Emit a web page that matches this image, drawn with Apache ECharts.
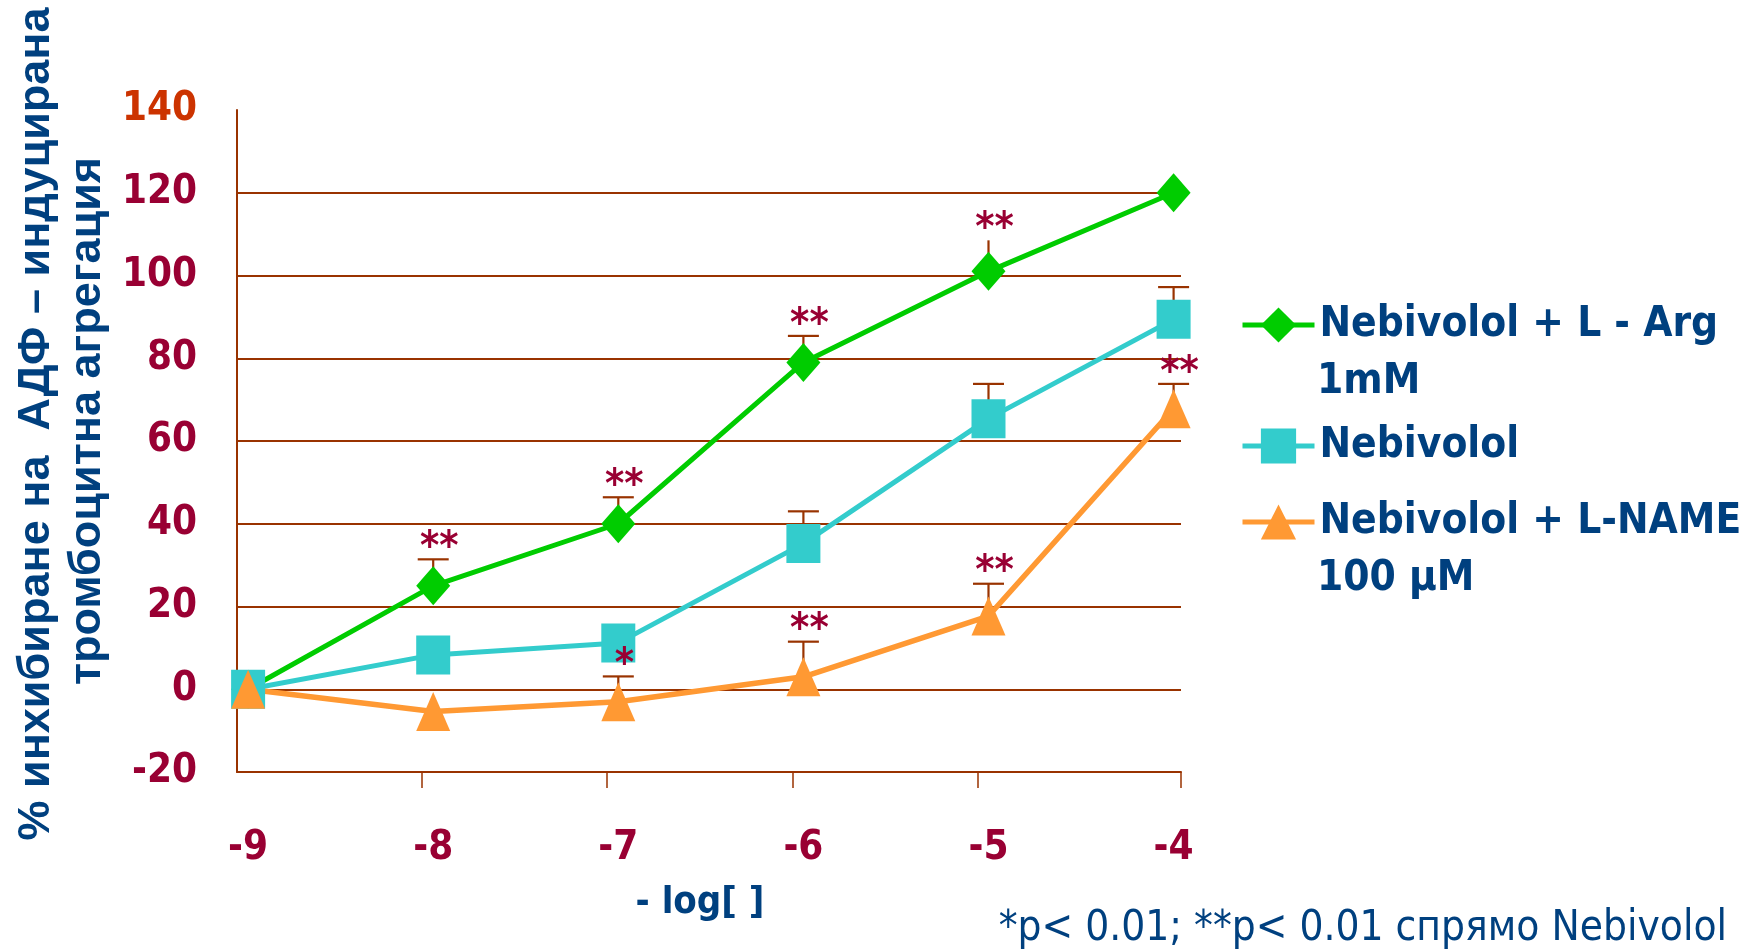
<!DOCTYPE html>
<html>
<head>
<meta charset="utf-8">
<script src="https://cdn.jsdelivr.net/npm/echarts@6/dist/echarts.min.js"></script>
<style>
  html, body { margin: 0; padding: 0; background: #ffffff; }
  #chart { width: 1760px; height: 951px; }
</style>
</head>
<body>
<div id="chart"></div>
<script>
// -log[concentration] positions
const xValues = [-9, -8, -7, -6, -5, -4];

// % inhibition of ADP-induced platelet aggregation
const seriesNames = ['Nebivolol + L - Arg', 'Nebivolol', 'Nebivolol + L-NAME'];
const legendSecondLines = ['1mM', '', '100 µM'];
const argValues  = [0, 25, 40, 79, 101, 120];
const nebValues  = [0, 8.3, 11.2, 35.2, 65.4, 89.4];
const nameValues = [0, -5.4, -3.0, 3.0, 17.7, 67.8];

// upper ends of the error bars (null = no bar drawn)
const argErrTop  = [null, 31.4, 46.4, 85.4, 108.5, null];
const nebErrTop  = [null, null, null, 43, 73.8, 97.2];
const nameErrTop = [null, null, 3.1, 11.5, 25.5, 73.8];
// whether the bar ends with a horizontal cap
const argErrCap  = [0, 1, 1, 1, 0, 0];
const nebErrCap  = [0, 0, 0, 1, 1, 1];
const nameErrCap = [0, 0, 1, 1, 1, 1];

// significance markers
const argStars  = ['', '**', '**', '**', '**', ''];
const nameStars = ['', '', '*', '**', '**', '**'];

const yAxisTitle = ['% инхибиране на  АДФ – индуцирана', 'тромбоцитна агрегация'];
const xAxisTitle = '- log[ ]';
const footnote = '*p< 0.01; **p< 0.01 спрямо Nebivolol';

const BROWN = '#993300';
const RED = '#990033';
const BLUE = '#00407f';
const colors = ['#00cc00', '#33cccc', '#ff9933'];
const symbols = ['diamond', 'rect', 'triangle'];
const valueSets = [argValues, nebValues, nameValues];
const errTops = [argErrTop, nebErrTop, nameErrTop];
const errCaps = [argErrCap, nebErrCap, nameErrCap];
const starSets = [argStars, null, nameStars];

const COND = '"DejaVu Sans Condensed", "DejaVu Sans", sans-serif';

const xMin = -9.06, xMax = -3.96;
const tickEdges = xValues.slice(1, 5).map(v => v - 0.06).concat([xMax]);

const chart = echarts.init(document.getElementById('chart'));

const lineSeries = valueSets.map((vals, i) => ({
  name: seriesNames[i],
  type: 'line',
  data: xValues.map((x, k) => [x, vals[k]]),
  symbol: symbols[i],
  symbolSize: [34, 39],
  lineStyle: { color: colors[i], width: i === 2 ? 5.5 : 5 },
  itemStyle: { color: colors[i] },
  z: 3,
  animation: false
}));

const errorSeries = errTops.map((tops, i) => ({
  type: 'custom',
  z: 2,
  silent: true,
  animation: false,
  data: xValues.map((x, k) => [x, valueSets[i][k], tops[k], errCaps[i][k]]).filter(d => d[2] !== null),
  renderItem: function (params, api) {
    const x = api.value(0);
    const p0 = api.coord([x, api.value(1)]);
    const p1 = api.coord([x, api.value(2)]);
    const children = [{
      type: 'line',
      shape: { x1: p0[0], y1: p0[1], x2: p1[0], y2: p1[1] },
      style: { stroke: BROWN, lineWidth: 2.2 }
    }];
    if (api.value(3)) {
      children.push({
        type: 'line',
        shape: { x1: p1[0] - 15.5, y1: p1[1], x2: p1[0] + 15.5, y2: p1[1] },
        style: { stroke: BROWN, lineWidth: 2.2 }
      });
    }
    return { type: 'group', children: children };
  }
}));

const starSeries = starSets.map((stars, i) => stars ? ({
  type: 'custom',
  z: 6,
  silent: true,
  animation: false,
  data: xValues.map((x, k) => [x, errTops[i][k], k]).filter(d => stars[d[2]]),
  renderItem: function (params, api) {
    const p = api.coord([api.value(0), api.value(1)]);
    return {
      type: 'text',
      x: p[0] + 6,
      y: p[1] - 11,
      style: {
        text: stars[api.value(2)],
        fill: RED,
        font: 'bold 41px ' + COND,
        align: 'center',
        verticalAlign: 'middle'
      }
    };
  }
}) : null).filter(Boolean);

// legend rows: icon centre heights
const legendCenters = [325, 446, 522];
const LEGEND_ROW = 44;
const legends = seriesNames.map((name, i) => ({
  orient: 'vertical',
  left: 1240,
  top: legendCenters[i] - LEGEND_ROW / 2,
  padding: 0,
  itemWidth: 72,
  itemHeight: LEGEND_ROW,
  selectedMode: false,
  data: [name],
  lineStyle: { width: 5 },
  textStyle: {
    color: BLUE,
    fontFamily: COND,
    fontWeight: 'bold',
    fontSize: 42,
    lineHeight: LEGEND_ROW
  }
}));

const legendExtraText = legendSecondLines.map((t, i) => t ? ({
  type: 'text', x: 1317, y: legendCenters[i] + 57,
  style: { text: t, fill: BLUE, font: 'bold 42px ' + COND, align: 'left', verticalAlign: 'middle' }
}) : null).filter(Boolean);

const option = {
  backgroundColor: '#ffffff',
  animation: false,
  grid: { left: 237, right: 579, top: 110, bottom: 179, containLabel: false },
  xAxis: {
    type: 'value',
    min: xMin,
    max: xMax,
    axisLine: { show: true, onZero: false, lineStyle: { color: BROWN, width: 2 } },
    axisTick: { show: true, customValues: tickEdges, length: 16, lineStyle: { color: BROWN, width: 1.5 } },
    axisLabel: {
      customValues: xValues,
      margin: 57,
      color: RED,
      fontFamily: COND,
      fontWeight: 'bold',
      fontSize: 40,
      formatter: v => String(v)
    },
    splitLine: { show: false }
  },
  yAxis: {
    type: 'value',
    min: -20,
    max: 140,
    interval: 20,
    axisLine: { show: true, lineStyle: { color: BROWN, width: 2 } },
    axisTick: { show: false },
    axisLabel: {
      margin: 40,
      color: v => Number(v) === 140 ? '#cc3300' : RED,
      fontFamily: COND,
      fontWeight: 'bold',
      fontSize: 40
    },
    splitLine: { show: true, showMaxLine: false, lineStyle: { color: BROWN, width: 2 } }
  },
  legend: legends,
  graphic: [
    {
      type: 'text', x: 37, y: 424, rotation: Math.PI / 2,
      style: { text: yAxisTitle[0], fill: BLUE, font: 'bold 45px "Liberation Sans", Arial, sans-serif', align: 'center', verticalAlign: 'middle' }
    },
    {
      type: 'text', x: 88, y: 421, rotation: Math.PI / 2,
      style: { text: yAxisTitle[1], fill: BLUE, font: 'bold 45px "Liberation Sans", Arial, sans-serif', align: 'center', verticalAlign: 'middle' }
    },
    {
      type: 'text', x: 700, y: 903,
      style: { text: xAxisTitle, fill: BLUE, font: 'bold 38px ' + COND, align: 'center', verticalAlign: 'middle' }
    },
    {
      type: 'text', x: 1727, y: 929,
      style: { text: footnote, fill: BLUE, font: '42px ' + COND, align: 'right', verticalAlign: 'middle' }
    }
  ].concat(legendExtraText),
  series: errorSeries.concat(lineSeries, starSeries)
};

chart.setOption(option);
</script>
</body>
</html>
